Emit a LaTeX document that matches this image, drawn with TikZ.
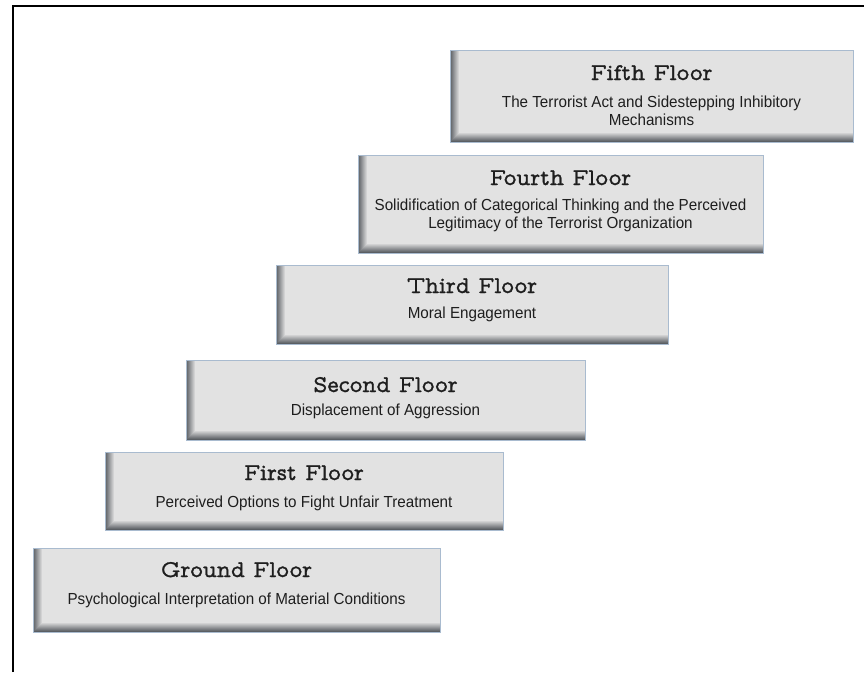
\documentclass[tikz,border=0pt]{standalone}
\usepackage{fontspec}
\setmainfont{Liberation Sans}
\newfontfamily\subfont[FakeStretch=0.95]{Liberation Sans}
\newfontfamily\titlefont[FakeBold=1.2]{lmmonoprop10-regular.otf}
\definecolor{boxfill}{HTML}{E2E2E2}
\definecolor{boxedge}{HTML}{A9BBCF}
\definecolor{boxshade}{HTML}{5A5E63}
\definecolor{ink}{HTML}{1E1E1E}
\begin{document}
\begin{tikzpicture}[x=1pt,y=-1pt,
  floor/.style={draw=boxedge, line width=0.8pt, fill=boxfill, inner sep=0pt,
    path picture={
      \foreach \i [evaluate=\i as \p using {100-\i*11}] in {0,...,8}{
        \fill[boxshade!\p!boxfill]
          ([xshift=\i pt]path picture bounding box.south west) rectangle
          ([xshift=\i pt+1pt]path picture bounding box.north west);
      }
      \foreach \i [evaluate=\i as \p using {100-\i*11}] in {0,...,8}{
        \fill[boxshade!\p!boxfill]
          ([yshift=\i pt, xshift=\i pt]path picture bounding box.south west) rectangle
          ([yshift=\i pt+1pt]path picture bounding box.south east);
      }
    }},
  title/.style={anchor=base, inner sep=0pt, text=ink, font=\titlefont\fontsize{24}{26}\selectfont},
  sub/.style={anchor=base, inner sep=0pt, align=center, text=ink, font=\subfont\fontsize{16}{18}\selectfont},
  frame/.style={line width=2.6pt, line join=miter}
]
\useasboundingbox (0,0) rectangle (864,672);
\fill[white] (0,0) rectangle (864,672);
\coordinate (fb) at (13,672);
\coordinate (fc) at (13,6);
\coordinate (fr) at (864,6);
\draw[frame] (fb) -- (fc) -- (fr);

% Fifth
\node[floor, minimum width=403pt, minimum height=92pt] (f5) at (651.5,96) {};
\node[title] (t5) at (651.5,80) {Fifth Floor};
\node[sub] (s5) at (651.5,125) {The Terrorist Act and Sidestepping Inhibitory\\Mechanisms};
% Fourth
\node[floor, minimum width=405pt, minimum height=98pt] (f4) at (560.5,204) {};
\node[title] (t4) at (560.5,185) {Fourth Floor};
\node[sub] (s4) at (560.5,228) {Solidification of Categorical Thinking and the Perceived\\Legitimacy of the Terrorist Organization};
% Third
\node[floor, minimum width=392pt, minimum height=79pt] (f3) at (472,304.5) {};
\node[title] (t3) at (472,293) {Third Floor};
\node[sub] (s3) at (472,318) {Moral Engagement};
% Second
\node[floor, minimum width=399pt, minimum height=80pt] (f2) at (385.5,400) {};
\node[title] (t2) at (385.5,392) {Second Floor};
\node[sub] (s2) at (385.5,415) {Displacement of Aggression};
% First
\node[floor, minimum width=398pt, minimum height=78pt] (f1) at (304,491) {};
\node[title] (t1) at (304,480) {First Floor};
\node[sub] (s1) at (304,507) {Perceived Options to Fight Unfair Treatment};
% Ground
\node[floor, minimum width=407pt, minimum height=84pt] (f0) at (236.5,590) {};
\node[title] (t0) at (236.5,577) {Ground Floor};
\node[sub] (s0) at (236.5,604) {Psychological Interpretation of Material Conditions};
\end{tikzpicture}
\end{document}
